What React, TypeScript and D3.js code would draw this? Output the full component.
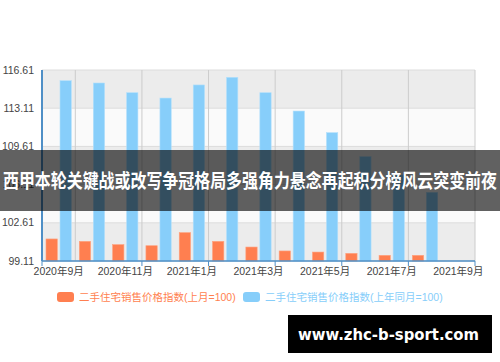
import * as d3 from "d3";
import { useEffect, useRef } from "react";

// months on the category axis
const months = [
  "2020年9月", "2020年10月", "2020年11月", "2020年12月", "2021年1月", "2021年2月",
  "2021年3月", "2021年4月", "2021年5月", "2021年6月", "2021年7月", "2021年8月", "2021年9月",
];
// 二手住宅销售价格指数(上月=100)
const momValues = [101.13, 100.91, 100.61, 100.51, 101.71, 100.91, 100.39, 100.03, 99.93, 99.81, 99.63, 99.63, null];
// 二手住宅销售价格指数(上年同月=100)
const yoyValues = [115.63, 115.42, 114.53, 114.04, 115.24, 115.94, 114.53, 112.85, 110.87, 108.67, 106.99, 105.4, null];
const yTicks = [99.11, 102.61, 106.11, 109.61, 113.11, 116.61];
const seriesNames = ["二手住宅销售价格指数(上月=100)", "二手住宅销售价格指数(上年同月=100)"];
const headline = "西甲本轮关键战或改写争冠格局多强角力悬念再起积分榜风云突变前夜";
const siteMark = "www.zhc-b-sport.com";

export default function App() {
  const domRef = useRef<SVGSVGElement | null>(null);

  useEffect(() => {
    const svg = d3.select(domRef.current);
    svg.selectAll("*").remove();

    const W = 500, H = 362;
    const plot = { left: 42, right: 475, top: 70, bottom: 261 };
    const colors = ["#ff7f50", "#87cefa"];
    const labelFont = "'Liberation Sans', Arial, 'Noto Sans CJK SC', sans-serif";

    svg.append("rect").attr("width", W).attr("height", H).attr("fill", "#fff");

    const x = d3.scaleBand<string>().domain(months).range([plot.left, plot.right]).padding(0);
    const inner = d3
      .scaleBand<string>()
      .domain(["mom", "yoy"])
      .range([0, x.bandwidth()])
      .paddingInner(0.193)
      .paddingOuter(0.286);
    const y = d3.scaleLinear().domain([yTicks[0], yTicks[yTicks.length - 1]]).range([plot.bottom, plot.top]);

    // split area bands
    const bands = svg.append("g");
    for (let i = 0; i < yTicks.length - 1; i++) {
      bands
        .append("rect")
        .attr("x", plot.left)
        .attr("width", plot.right - plot.left)
        .attr("y", y(yTicks[i + 1]))
        .attr("height", y(yTicks[i]) - y(yTicks[i + 1]))
        .attr("fill", i % 2 === 0 ? "#ececec" : "#fafafa");
    }

    // horizontal grid
    svg
      .append("g")
      .selectAll("line")
      .data(yTicks)
      .enter()
      .append("line")
      .attr("x1", plot.left)
      .attr("x2", plot.right)
      .attr("y1", (d) => y(d))
      .attr("y2", (d) => y(d))
      .style("stroke", "#dcdcdc")
      .style("stroke-width", "1px");

    // vertical grid on labelled categories
    const labelled = months.filter((d, i) => i % 2 === 0);
    svg
      .append("g")
      .selectAll("line")
      .data(labelled)
      .enter()
      .append("line")
      .attr("x1", (d) => (x(d) as number) + x.bandwidth())
      .attr("x2", (d) => (x(d) as number) + x.bandwidth())
      .attr("y1", plot.top)
      .attr("y2", plot.bottom)
      .style("stroke", "#cccccc")
      .style("stroke-width", "1px");

    // bars
    const groups = svg
      .append("g")
      .selectAll("g")
      .data(months)
      .enter()
      .append("g")
      .attr("transform", (d) => `translate(${x(d)},0)`);

    groups
      .filter((d, i) => momValues[i] != null)
      .append("rect")
      .attr("x", inner("mom") as number)
      .attr("width", inner.bandwidth())
      .attr("y", (d) => y(momValues[months.indexOf(d)] as number))
      .attr("height", (d) => plot.bottom - y(momValues[months.indexOf(d)] as number))
      .attr("fill", colors[0])
      .style("stroke", "#ffa27f")
      .style("stroke-width", "0.6px");

    groups
      .filter((d, i) => yoyValues[i] != null)
      .append("rect")
      .attr("x", inner("yoy") as number)
      .attr("width", inner.bandwidth())
      .attr("y", (d) => y(yoyValues[months.indexOf(d)] as number))
      .attr("height", (d) => plot.bottom - y(yoyValues[months.indexOf(d)] as number))
      .attr("fill", colors[1])
      .style("stroke", "#b3e0fc")
      .style("stroke-width", "0.6px");

    // axes
    const axisColor = "#4f8fc6";
    svg
      .append("line")
      .attr("x1", plot.left)
      .attr("x2", plot.left)
      .attr("y1", plot.top)
      .attr("y2", plot.bottom)
      .style("stroke", axisColor)
      .style("stroke-width", "2px");
    svg
      .append("line")
      .attr("x1", plot.left)
      .attr("x2", plot.right)
      .attr("y1", plot.bottom)
      .attr("y2", plot.bottom)
      .style("stroke", axisColor)
      .style("stroke-width", "1.5px");

    const tickXs = [plot.left].concat(labelled.slice(1).map((d) => (x(d) as number) + x.bandwidth()));
    svg
      .append("g")
      .selectAll("line")
      .data(tickXs)
      .enter()
      .append("line")
      .attr("x1", (d) => d)
      .attr("x2", (d) => d)
      .attr("y1", plot.bottom)
      .attr("y2", plot.bottom + 5)
      .style("stroke", axisColor)
      .style("stroke-width", "1px");

    svg
      .append("g")
      .selectAll("text")
      .data(yTicks)
      .enter()
      .append("text")
      .attr("x", plot.left - 8)
      .attr("y", (d) => y(d))
      .attr("dy", "0.35em")
      .attr("text-anchor", "end")
      .style("font-family", labelFont)
      .style("font-size", "10.5px")
      .style("fill", "#444")
      .text((d) => d.toFixed(2));

    svg
      .append("g")
      .selectAll("text")
      .data(labelled)
      .enter()
      .append("text")
      .attr("x", (d) => (x(d) as number) + x.bandwidth() / 2)
      .attr("y", plot.bottom + 14)
      .attr("text-anchor", "middle")
      .style("font-family", labelFont)
      .style("font-size", "10.5px")
      .style("fill", "#444")
      .text((d) => d);

    // legend
    const legendX = [57, 243];
    const legend = svg
      .append("g")
      .selectAll("g")
      .data(seriesNames)
      .enter()
      .append("g")
      .attr("transform", (d, i) => `translate(${legendX[i]},292)`);
    legend
      .append("rect")
      .attr("width", 17)
      .attr("height", 10)
      .attr("rx", 3)
      .attr("fill", (d, i) => colors[i]);
    legend
      .append("text")
      .attr("x", 22)
      .attr("y", 5)
      .attr("dy", "0.35em")
      .style("font-family", labelFont)
      .style("font-size", "10.5px")
      .style("fill", (d, i) => colors[i])
      .text((d) => d);

    // headline overlay
    svg
      .append("rect")
      .attr("x", 0)
      .attr("y", 150)
      .attr("width", W)
      .attr("height", 61)
      .attr("fill", "rgba(0,0,0,0.62)");
    svg
      .append("text")
      .attr("x", 3)
      .attr("y", 181)
      .attr("dy", "0.35em")
      .attr("textLength", 494)
      .attr("lengthAdjust", "spacingAndGlyphs")
      .style("font-family", "'Noto Sans CJK SC', sans-serif")
      .style("font-weight", "bold")
      .style("font-size", "19px")
      .style("fill", "#fff")
      .text(headline);

    // site mark
    svg
      .append("rect")
      .attr("x", 288)
      .attr("y", 315)
      .attr("width", 204)
      .attr("height", 38)
      .attr("fill", "#000");
    svg
      .append("text")
      .attr("x", 298)
      .attr("y", 334)
      .attr("dy", "0.35em")
      .attr("textLength", 181)
      .attr("lengthAdjust", "spacingAndGlyphs")
      .style("font-family", "'DejaVu Sans', sans-serif")
      .style("font-weight", "bold")
      .style("font-size", "16px")
      .style("fill", "#fff")
      .text(siteMark);
  }, []);

  return (
    <svg
      ref={domRef}
      width={500}
      height={362}
      style={{ position: "absolute", left: 0, top: 0, display: "block" }}
    />
  );
}
